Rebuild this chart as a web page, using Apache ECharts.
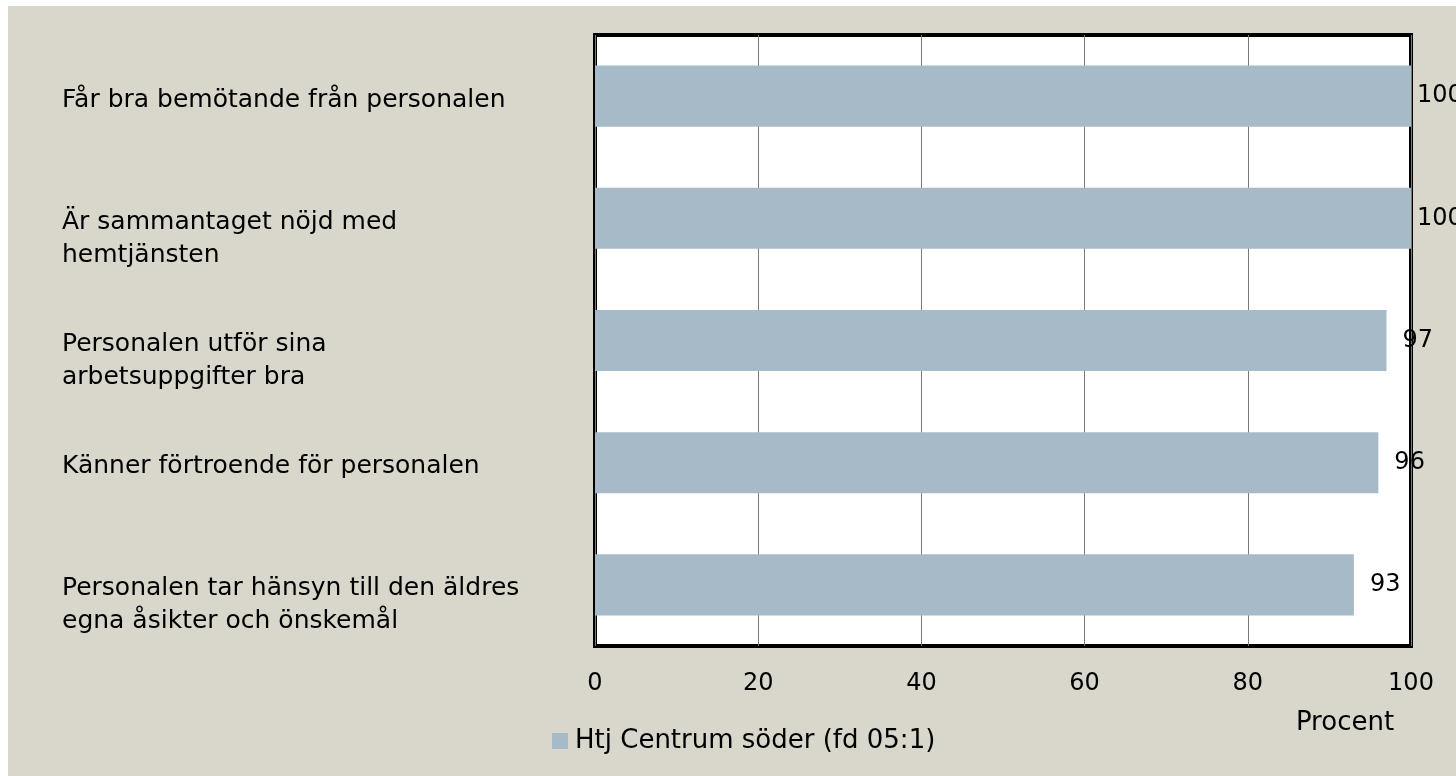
<!DOCTYPE html>
<html>
<head>
<meta charset="utf-8">
<title>Htj Centrum söder</title>
<script src="https://cdn.jsdelivr.net/npm/echarts@6/dist/echarts.min.js"></script>
<style>
  html, body { margin: 0; padding: 0; background: #fff; }
  #main { position: absolute; left: 8px; top: 6px; width: 1448px; height: 770px; }
</style>
</head>
<body>
<div id="main"></div>
<script>
// data
var categories = [
    'Får bra bemötande från personalen',
    'Är sammantaget nöjd med\nhemtjänsten',
    'Personalen utför sina\narbetsuppgifter bra',
    'Känner förtroende för personalen',
    'Personalen tar hänsyn till den äldres\negna åsikter och önskemål'
];
var values = [100, 100, 97, 96, 93];
var xTicks = [0, 20, 40, 60, 80, 100];
var seriesName = 'Htj Centrum söder (fd 05:1)';
var axisTitle = 'Procent';

var font = 'DejaVu Sans';
var myChart = echarts.init(document.getElementById('main'));

var option = {
    backgroundColor: '#d9d7cb',
    textStyle: { fontFamily: font, color: '#000' },
    grid: [
        {
            left: 587,
            right: 45,
            top: 29,
            bottom: 130,
            show: true,
            backgroundColor: '#fff',
            borderColor: '#000',
            borderWidth: 4,
            outerBoundsMode: 'none'
        },
        // same plot, a few px lower: only carries the category labels
        { left: 587, right: 45, top: 33, bottom: 126, show: false, outerBoundsMode: 'none' }
    ],
    legend: {
        data: [seriesName],
        left: 539,
        top: 717,
        icon: 'rect',
        itemWidth: 16,
        itemHeight: 16,
        itemGap: 10,
        textStyle: { fontFamily: font, fontSize: 26, color: '#000', padding: [0, 0, 0, 2] }
    },
    xAxis: [
        {
            type: 'value',
            gridIndex: 0,
            min: xTicks[0],
            max: xTicks[xTicks.length - 1],
            interval: xTicks[1] - xTicks[0],
            name: axisTitle,
            nameLocation: 'end',
            nameGap: -66,
            nameTextStyle: {
                fontFamily: font, fontSize: 26, color: '#000',
                align: 'center', verticalAlign: 'top', padding: [64, 0, 0, 0]
            },
            axisLine: { show: false },
            axisTick: { show: false },
            axisLabel: { fontFamily: font, fontSize: 24, color: '#000', margin: 26 },
            splitLine: { show: true, lineStyle: { color: '#7a7a7a', width: 1 } }
        },
        { type: 'value', gridIndex: 1, show: false }
    ],
    yAxis: [
        {
            type: 'category',
            gridIndex: 0,
            inverse: true,
            data: categories,
            axisLine: { show: false },
            axisTick: { show: false },
            axisLabel: { show: false },
            splitLine: { show: false }
        },
        {
            type: 'category',
            gridIndex: 1,
            inverse: true,
            data: categories,
            axisLine: { show: false },
            axisTick: { show: false },
            splitLine: { show: false },
            axisLabel: {
                fontFamily: font,
                fontSize: 25,
                color: '#000',
                align: 'left',
                margin: 533,
                lineHeight: 33,
                // first line of a wrapped label sits at the bar centre
                formatter: function (v) {
                    return v.indexOf('\n') >= 0 ? '\n' + v : v;
                }
            }
        }
    ],
    series: [
        {
            name: seriesName,
            type: 'bar',
            xAxisIndex: 0,
            yAxisIndex: 0,
            barCategoryGap: '50%',
            itemStyle: { color: '#a6bbc7' },
            label: {
                show: true,
                position: 'right',
                distance: 16,
                fontFamily: font,
                fontSize: 24,
                color: '#000'
            },
            data: values.map(function (v) {
                return v >= 100 ? { value: v, label: { distance: 6 } } : v;
            })
        }
    ]
};

myChart.setOption(option);
window.onresize = myChart.resize;
</script>
</body>
</html>
